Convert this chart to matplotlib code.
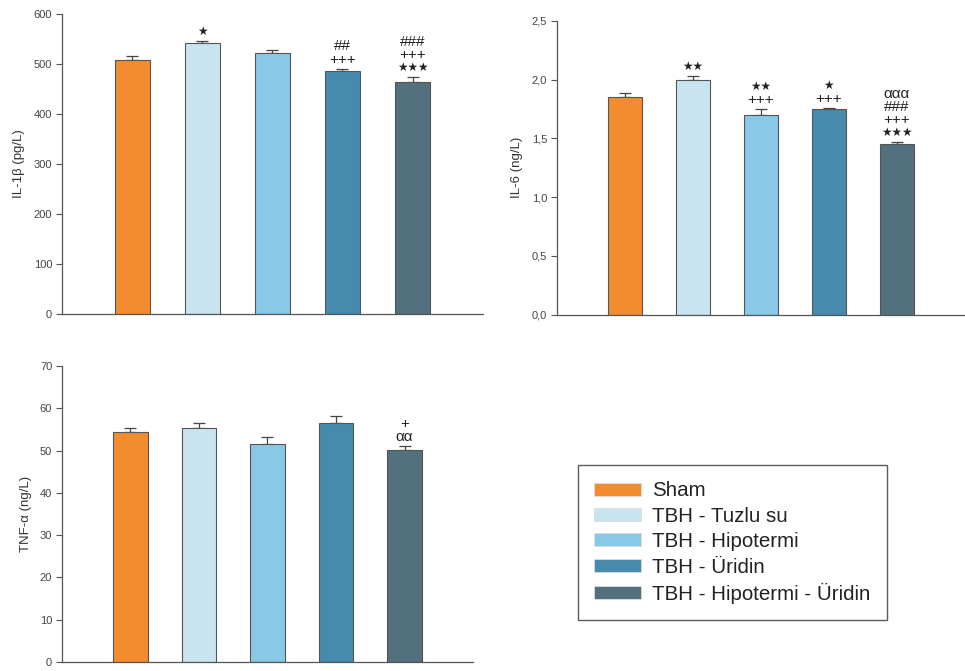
import matplotlib.pyplot as plt
from matplotlib.patches import Patch
from matplotlib.ticker import FuncFormatter

plt.rcParams['font.family'] = ['Liberation Sans', 'DejaVu Sans']

groups = ['Sham', 'TBH - Tuzlu su', 'TBH - Hipotermi', 'TBH - Üridin', 'TBH - Hipotermi - Üridin']
colors = ['#F28C2E', '#C9E4F1', '#89C8E7', '#468AAE', '#52707E']

# significance marks, listed from the top line down
il1b = [508, 542, 522, 486, 465]
il1b_err = [9, 5, 6, 5, 9]
il1b_marks = [[], ['★'], [], ['##', '+++'], ['###', '+++', '★★★']]

il6 = [1.85, 2.00, 1.70, 1.75, 1.45]
il6_err = [0.035, 0.03, 0.05, 0.01, 0.017]
il6_marks = [[], ['★★'], ['★★', '+++'], ['★', '+++'], ['ααα', '###', '+++', '★★★']]

tnf = [54.5, 55.4, 51.6, 56.6, 50.2]
tnf_err = [0.9, 1.2, 1.6, 1.5, 0.9]
tnf_marks = [[], [], [], [], ['+', 'αα']]

fig = plt.figure(figsize=(9.65, 6.71), dpi=100)
ax1 = fig.add_axes([0.0642, 0.532, 0.436, 0.447])
ax2 = fig.add_axes([0.577, 0.531, 0.423, 0.438])
ax3 = fig.add_axes([0.0642, 0.0134, 0.426, 0.441])

def draw(ax, vals, errs, marks, ymax, step, label, comma=False):
    x = range(len(vals))
    ax.bar(x, vals, width=0.5, color=colors, edgecolor='#555555', linewidth=0.8, zorder=2)
    ax.errorbar(x, vals, yerr=[[0] * len(errs), errs], fmt='none', ecolor='#444444',
                elinewidth=0.9, capsize=4, capthick=0.9, zorder=1)
    for i, lines in enumerate(marks):
        for k, m in enumerate(reversed(lines)):
            fs = 8.5 if '★' in m else 11
            ax.annotate(m, (i, vals[i] + errs[i]), xytext=(0, 6.5 + 9.4 * k),
                        textcoords='offset points', ha='center', va='center',
                        fontsize=fs, color='#222222')
    ax.set_xlim(-1, 5)
    ax.set_ylim(0, ymax)
    ax.set_yticks([k * step for k in range(int(round(ymax / step)) + 1)])
    if comma:
        ax.yaxis.set_major_formatter(FuncFormatter(lambda v, p: ('%.1f' % v).replace('.', ',')))
    ax.set_xticks([])
    for s in ['top', 'right']:
        ax.spines[s].set_visible(False)
    for s in ['left', 'bottom']:
        ax.spines[s].set_color('#555555')
        ax.spines[s].set_linewidth(0.9)
    ax.tick_params(axis='y', direction='out', length=4.5, width=0.8, pad=2.5, colors='#555555',
                   labelcolor='#444444', labelsize=8)
    ax.set_ylabel(label, fontsize=9.5, color='#333333', labelpad=6)

draw(ax1, il1b, il1b_err, il1b_marks, 600, 100, 'IL-1β (pg/L)')
draw(ax2, il6, il6_err, il6_marks, 2.5, 0.5, 'IL-6 (ng/L)', comma=True)
draw(ax3, tnf, tnf_err, tnf_marks, 70, 10, 'TNF-α (ng/L)')

handles = [Patch(facecolor=c, edgecolor='#dddddd', linewidth=0.6) for c in colors]
leg = fig.legend(handles, groups, loc='upper left', bbox_to_anchor=(0.599, 0.307),
                 fontsize=14.8, frameon=True, fancybox=False, handlelength=2.25,
                 handleheight=0.6, labelspacing=0.31, borderpad=0.8, handletextpad=0.55,
                 borderaxespad=0)
leg.get_frame().set_edgecolor('#333333')
leg.get_frame().set_linewidth(1.0)
for t in leg.get_texts():
    t.set_color('#222222')

fig.savefig('out.png', dpi=100)
